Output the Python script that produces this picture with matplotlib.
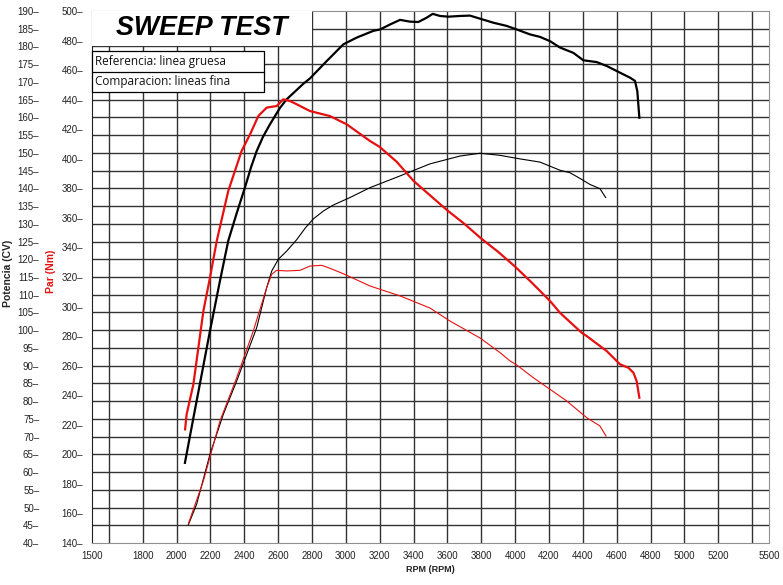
import matplotlib
matplotlib.use("Agg")
import matplotlib.pyplot as plt
from matplotlib.patches import Rectangle
from matplotlib.lines import Line2D

# ---------------- data ----------------
# Reference (thick) power, CV
ref_pow_rpm = [2049, 2100, 2150, 2197, 2256, 2305, 2355, 2404, 2440, 2473, 2510, 2552, 2611, 2650,
               2749, 2788, 2887, 2985, 3064, 3162, 3202, 3261, 3320, 3379, 3428, 3477,
               3513, 3556, 3605, 3674, 3733, 3802, 3871, 3950, 4009, 4088, 4147, 4206,
               4265, 4344, 4403, 4482, 4541, 4620, 4679, 4708, 4722, 4734]
ref_pow_cv = [62.6, 75.5, 88.0, 99.8, 113.9, 125.2, 133.0, 140.3, 146.0, 150.5, 154.5, 158.1, 162.7, 165.1,
              169.5, 171.0, 175.9, 180.6, 182.5, 184.4, 184.8, 186.2, 187.5, 187.0, 186.9, 188.1,
              189.2, 188.6, 188.4, 188.6, 188.7, 187.7, 186.7, 185.8, 184.8, 183.4, 182.7, 181.5,
              179.7, 178.2, 176.1, 175.6, 174.5, 172.6, 171.2, 170.3, 167.4, 159.9]

# Reference (thick) torque, Nm
ref_tq_rpm = [2050, 2059, 2099, 2158, 2197, 2237, 2305, 2384, 2434, 2483, 2532, 2591,
              2630, 2670, 2709, 2788, 2906, 3005, 3143, 3200, 3300, 3400, 3500, 3600,
              3700, 3800, 3900, 4000, 4100, 4206, 4265, 4393, 4422, 4541, 4620, 4669,
              4699, 4718, 4734]
ref_tq_nm = [216.9, 227.0, 247.4, 297.0, 319.5, 344.4, 378.2, 405.3, 416.6, 429.0, 434.6, 435.7,
             440.2, 439.1, 436.9, 432.3, 428.9, 423.3, 412.0, 408.0, 398.0, 385.0, 375.0, 365.0,
             356.0, 346.0, 337.0, 327.0, 316.0, 303.8, 295.8, 282.3, 280.1, 269.9, 260.9, 258.6,
             255.2, 249.6, 238.3]

# Comparison (thin) power, CV
cmp_pow_rpm = [2069, 2118, 2197, 2276, 2355, 2414, 2473, 2532, 2562, 2601, 2650, 2709,
               2760, 2808, 2870, 2926, 3024, 3143, 3320, 3497, 3674, 3793, 3911, 4029, 4147, 4265,
               4324, 4383, 4442, 4501, 4535]
cmp_pow_cv = [45.1, 50.9, 65.0, 76.3, 85.7, 93.2, 100.7, 112.0, 116.7, 120.0, 122.3, 125.5,
              128.8, 131.4, 133.7, 135.3, 137.4, 140.2, 143.5, 146.9, 149.1, 149.9, 149.3, 148.3, 147.4, 145.1,
              144.4, 142.8, 141.1, 139.9, 137.4]

# Comparison (thin) torque, Nm
cmp_tq_rpm = [2069, 2158, 2256, 2355, 2453, 2532, 2562, 2591, 2650, 2729, 2788, 2857,
              2906, 2985, 3143, 3320, 3497, 3615, 3793, 3911, 3970, 4009, 4107, 4206,
              4305, 4423, 4501, 4537]
cmp_tq_nm = [152.9, 182.0, 222.6, 251.9, 283.5, 312.8, 321.8, 324.5, 324.1, 324.5, 327.4, 327.9,
             325.9, 322.2, 313.9, 307.2, 299.0, 290.2, 278.7, 268.8, 263.2, 260.5, 251.9, 244.0,
             236.1, 224.8, 219.2, 212.4]

x_labels = [1500] + list(range(1800, 5201, 200)) + [5500]
x_grid = list(range(1600, 5401, 200))
cv_ticks = list(range(40, 191, 5))
nm_ticks = list(range(140, 501, 20))

title_text = "SWEEP TEST"
legend_lines = ["Referencia: linea gruesa", "Comparacion: lineas fina"]

# ---------------- figure ----------------
W, H = 783, 585
fig = plt.figure(figsize=(W / 100, H / 100), dpi=100)
L, R, T, B = 92, 769, 11, 543
ax = fig.add_axes([L / W, 1 - B / H, (R - L) / W, (B - T) / H])
ax2 = ax.twinx()

RED = "#e61010"
GRID = "#333333"
tick_font = dict(family="Liberation Sans", size=7)

ax.set_xlim(1500, 5500)
ax.set_ylim(40, 190)
ax2.set_ylim(140, 500)

# grid
ax.set_xticks(x_labels)
ax.set_yticks(cv_ticks)
ax.grid(False)
for xv in x_grid:
    ax.axvline(xv, color=GRID, lw=1.0, zorder=1)
for yv in cv_ticks[1:-1]:
    ax.axhline(yv, color=GRID, lw=1.0, zorder=1)

# spines
for s in ["top", "right", "bottom"]:
    ax.spines[s].set_color("#909090")
    ax2.spines[s].set_visible(False)
ax.spines["left"].set_color("#202020")
ax2.spines["left"].set_visible(False)

# tick labels
ax.set_xticklabels([str(v) for v in x_labels], **tick_font, color="#222222")
ax.tick_params(axis="x", which="both", length=0, pad=6)
ax.set_yticklabels([f"{v}\u2013" for v in cv_ticks], **tick_font, color="#222222")
ax.tick_params(axis="y", length=0, pad=38)

ax2.yaxis.set_ticks_position("left")
ax2.set_yticks(nm_ticks)
ax2.set_yticklabels([f"{v}\u2013" for v in nm_ticks], **tick_font, color="#222222")
ax2.tick_params(axis="y", length=0, pad=6.5)

# curves
ax.plot(ref_pow_rpm, ref_pow_cv, color="black", lw=1.6, zorder=3)
ax.plot(cmp_pow_rpm, cmp_pow_cv, color="black", lw=0.8, zorder=3)
ax2.plot(ref_tq_rpm, ref_tq_nm, color=RED, lw=1.6, zorder=3)
ax2.plot(cmp_tq_rpm, cmp_tq_nm, color=RED, lw=0.8, zorder=3)

# title box (white, covers grid)
def fx(px):
    return (px - L) / (R - L)

def fy(py):
    return (B - py) / (B - T)

ax2.add_patch(Rectangle((0, fy(46)), fx(312), 1 - fy(46), transform=ax2.transAxes,
                        facecolor="white", edgecolor="none", zorder=5, clip_on=False))
ax2.text(fx(201.5), fy(28), title_text, transform=ax2.transAxes, ha="center", va="center",
         family="Liberation Sans", weight="bold", style="italic", size=19.3, color="black", zorder=6)

# legend box
ax2.add_patch(Rectangle((0, fy(92)), fx(264), fy(51) - fy(92), transform=ax2.transAxes,
                        facecolor="white", edgecolor="black", lw=0.9, zorder=5, clip_on=False))
ax2.add_line(Line2D([0, fx(264)], [fy(71.5), fy(71.5)], transform=ax2.transAxes,
                    color="black", lw=0.9, zorder=6))
ax2.text(fx(95), fy(61.5), legend_lines[0], transform=ax2.transAxes, ha="left", va="center",
         family="Open Sans", size=8.5, color="#111111", zorder=7)
ax2.text(fx(95), fy(82), legend_lines[1], transform=ax2.transAxes, ha="left", va="center",
         family="Open Sans", size=8.5, color="#111111", zorder=7)

# axis labels
fig.text(8 / W, 1 - 273 / H, "Potencia (CV)", rotation=90, ha="center", va="center",
         family="Liberation Sans", weight="bold", size=7.5, color="#222222")
fig.text(51 / W, 1 - 271 / H, "Par (Nm)", rotation=90, ha="center", va="center",
         family="Liberation Sans", weight="bold", size=7.5, color=RED)
fig.text(430 / W, 1 - 570 / H, "RPM (RPM)", ha="center", va="center",
         family="Liberation Sans", weight="bold", size=6.5, color="#222222")

fig.savefig("out.png", dpi=100)
